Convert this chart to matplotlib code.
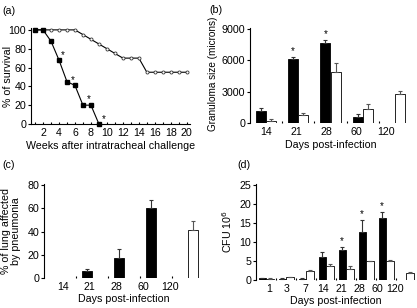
import numpy as np
import matplotlib
matplotlib.use("Agg")
import matplotlib.pyplot as plt

plt.rcParams['font.family'] = ['Liberation Sans', 'DejaVu Sans']
plt.rcParams['font.size'] = 7.7

# ---- Data ----
weeks = list(range(1, 21))
surv_open = [100, 100, 100, 100, 100, 100, 95, 90, 85, 80, 75, 70, 70, 70, 55, 55, 55, 55, 55, 55]
weeks_sq = list(range(1, 10))
surv_filled = [100, 100, 88, 68, 45, 41, 20, 20, 0]
surv_star_x = [4.2, 5.5, 7.45, 9.4]
surv_star_y = [73, 47, 27, 5]

gran_days = ['14', '21', '28', '60', '120']
gran_black = [1150, 6100, 7650, 600, np.nan]
gran_black_err = [250, 250, 300, 300, 0]
gran_white = [200, 750, 4900, 1350, 2750]
gran_white_err = [150, 250, 800, 500, 300]
gran_star = [False, True, True, False, False]

pn_days = ['14', '21', '28', '60', '120']
pn_black = [np.nan, 6, 17, 60, np.nan]
pn_black_err = [0, 2, 8, 7, 0]
pn_white = [np.nan, np.nan, np.nan, np.nan, 41]
pn_white_err = [0, 0, 0, 0, 8]

cfu_days = ['1', '3', '7', '14', '21', '28', '60', '120']
cfu_black = [0.4, 0.3, 0.3, 6.0, 7.9, 12.6, 16.3, np.nan]
cfu_black_err = [0.1, 0.1, 0.1, 1.4, 0.7, 3.1, 1.5, 0]
cfu_white = [0.3, 0.7, 2.4, 3.8, 2.8, 4.9, 5.0, 1.9]
cfu_white_err = [0.1, 0.1, 0.2, 0.3, 0.8, 0.2, 0.3, 0.2]
cfu_star = [False, False, False, False, True, True, True, False]

W, H = 417, 308
fig = plt.figure(figsize=(W / 100, H / 100), dpi=100)

def px_axes(left, right, top, bottom):
    return fig.add_axes([left / W, 1 - bottom / H, (right - left) / W, (bottom - top) / H])

def style_bar_axes(ax, n, labels, lab_off, lab_step):
    ax.spines['top'].set_visible(False)
    ax.spines['right'].set_visible(False)
    ax.spines['bottom'].set_visible(False)
    ax.spines['left'].set_linewidth(0.8)
    ax.set_xlim(-0.5, n - 0.5)
    ax.set_xticks(lab_off + lab_step * np.arange(n))
    ax.set_xticklabels(labels)
    ax.set_xticks(np.arange(n - 1) + 0.5, minor=True)
    ax.tick_params(axis='x', which='major', length=0, pad=3)
    ax.tick_params(axis='x', which='minor', length=1.5, direction='in', width=0.8)
    ax.tick_params(axis='y', length=2, width=0.8, pad=1.5)

def bars(ax, black, black_err, white, white_err, width, off, stars=None, star_pad=0):
    x = np.arange(len(black))
    bk = np.array(black, float)
    wh = np.array(white, float)
    ax.bar(x - off, bk, width, color='black', edgecolor='black', linewidth=0.6, zorder=2)
    ax.bar(x + off, wh, width, color='white', edgecolor='black', linewidth=0.6, zorder=2)
    be = np.array(black_err, float)
    we = np.array(white_err, float)
    mb = ~np.isnan(bk)
    mw = ~np.isnan(wh)
    ax.errorbar((x - off)[mb], bk[mb], yerr=[np.zeros(mb.sum()), be[mb]], fmt='none',
                ecolor='#333333', elinewidth=0.8, capsize=1.5, capthick=0.8, zorder=3)
    ax.errorbar((x + off)[mw], wh[mw], yerr=[np.zeros(mw.sum()), we[mw]], fmt='none',
                ecolor='#555555', elinewidth=0.8, capsize=1.5, capthick=0.8, zorder=3)
    if stars is not None:
        for i, s in enumerate(stars):
            if s:
                ax.text(x[i] - off, bk[i] + be[i] + star_pad, '*', ha='center', va='bottom', fontsize=7)

# ---- (a) ----
ax = px_axes(31, 190, 28, 124)
ax.plot(weeks, surv_open, '-', color='black', lw=0.8, marker='o', ms=2.2,
        mfc='white', mec='#333333', mew=0.6, clip_on=False, zorder=3)
ax.plot(weeks_sq, surv_filled, '-', color='black', lw=0.8, marker='s', ms=2.4,
        mfc='black', mec='black', clip_on=False, zorder=4)
for sx, sy in zip(surv_star_x, surv_star_y):
    ax.text(sx, sy, '*', ha='left', va='center', fontsize=7)
ax.set_xlim(0.5, 20.4)
ax.set_ylim(0, 102)
ax.set_xticks(range(2, 21, 2))
ax.set_xticks(range(1, 21), minor=True)
ax.set_yticks([0, 20, 40, 60, 80, 100])
ax.spines['top'].set_visible(False)
ax.spines['right'].set_visible(False)
ax.spines['left'].set_linewidth(0.8)
ax.spines['bottom'].set_linewidth(0.8)
ax.tick_params(axis='x', which='both', direction='in', length=1.5, width=0.8, pad=3)
ax.tick_params(axis='y', length=2, width=0.8, pad=1.5)
ax.set_xlabel('Weeks after intratracheal challenge', labelpad=2)
ax.set_ylabel('% of survival')
ax.yaxis.set_label_coords(-0.113, 0.5)
fig.text(2 / W, 1 - 11 / H, '(a)', ha='left', va='center', fontsize=7.7)

# ---- (b) ----
ax = px_axes(250, 411, 28, 123)
bars(ax, gran_black, gran_black_err, gran_white, gran_white_err, 0.31, 0.16,
     gran_star, star_pad=100)
style_bar_axes(ax, len(gran_days), gran_days, 0.0, 0.93)
ax.set_ylim(0, 9100)
ax.set_yticks([0, 3000, 6000, 9000])
ax.set_xlabel('Days post-infection', labelpad=2)
ax.set_ylabel('Granuloma size (microns)', fontsize=7.2)
ax.yaxis.set_label_coords(-0.2, 0.52)
fig.text(209 / W, 1 - 10 / H, '(b)', ha='left', va='center', fontsize=7.7)

# ---- (c) ----
ax = px_axes(44, 204, 184, 278)
bars(ax, pn_black, pn_black_err, pn_white, pn_white_err, 0.31, 0.16)
style_bar_axes(ax, len(pn_days), pn_days, 0.09, 0.84)
ax.set_ylim(0, 81)
ax.set_yticks([0, 20, 40, 60, 80])
ax.set_xlabel('Days post-infection', labelpad=1)
ax.set_ylabel('% of lung affected\nby pneumonia', linespacing=1.0)
ax.yaxis.set_label_coords(-0.144, 0.5)
fig.text(2 / W, 1 - 165 / H, '(c)', ha='left', va='center', fontsize=7.7)

# ---- (d) ----
ax = px_axes(256, 416, 184, 280)
bars(ax, cfu_black, cfu_black_err, cfu_white, cfu_white_err, 0.37, 0.19,
     cfu_star, star_pad=0.2)
style_bar_axes(ax, len(cfu_days), cfu_days, 0.15, 0.9)
ax.set_ylim(0, 25.2)
ax.set_yticks([0, 5, 10, 15, 20, 25])
ax.set_xlabel('Days post-infection', labelpad=1)
ax.set_ylabel('CFU 10$^6$')
ax.yaxis.set_label_coords(-0.1375, 0.5)
fig.text(237 / W, 1 - 165 / H, '(d)', ha='left', va='center', fontsize=7.7)

fig.savefig('out.png', dpi=100)
